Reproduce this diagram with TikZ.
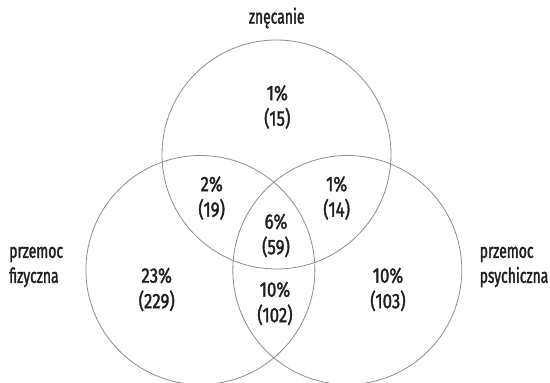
\documentclass[tikz,border=0pt]{standalone}
\usepackage{fontspec}
\setmainfont{Fira Sans}[FakeStretch=0.8,FakeBold=1.6]
\newfontfamily\narrowfont{Fira Sans}[FakeStretch=0.68,FakeBold=1.6]
\begin{document}
\begin{tikzpicture}[x=1pt,y=-1pt,
  set/.style={circle,draw=black!45,line width=0.8pt,inner sep=0pt,minimum size=229pt},
  lbl/.style={align=center,text=black!88,font=\fontsize{21}{25.5}\selectfont,inner sep=0pt},
  side/.style={align=left,text=black!88,font=\narrowfont\fontsize{20.5}{25}\selectfont,inner sep=0pt}]
\useasboundingbox (0,0) rectangle (550,383);
\node[set] (A) at (276.5,154.5) {};
\node[set] (B) at (200.4,270) {};
\node[set] (C) at (347.3,270) {};
\node[side] (tA) at (276.7,18) {znęcanie};
\node[side,anchor=west] (tB) at (9,267) {przemoc\\fizyczna};
\node[side,anchor=west] (tC) at (479.5,267) {przemoc\\psychiczna};
\node[lbl] (a) at (277.3,107) {1\%\\(15)};
\node[lbl] (ab) at (211.7,198) {2\%\\(19)};
\node[lbl] (ac) at (336.7,198) {1\%\\(14)};
\node[lbl] (abc) at (276,235.5) {6\%\\(59)};
\node[lbl] (b) at (156.7,289.5) {23\%\\(229)};
\node[lbl] (bc) at (275,303.5) {10\%\\(102)};
\node[lbl] (c) at (388,289.5) {10\%\\(103)};
\end{tikzpicture}
\end{document}
